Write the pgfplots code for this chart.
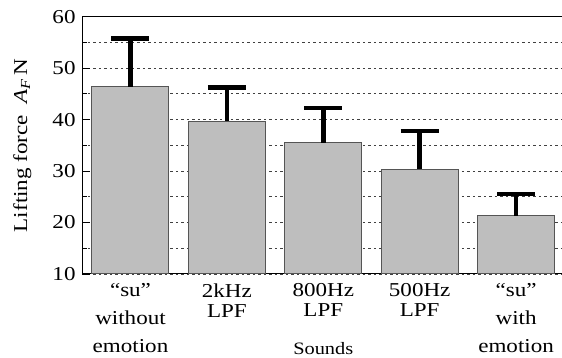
\documentclass[border=0pt]{standalone}
\usepackage{fontspec}
\setmainfont{Liberation Serif}[FakeStretch=1.17]
\usepackage{pgfplots}
\pgfplotsset{compat=1.18}
\definecolor{barfill}{HTML}{BEBEBE}
\definecolor{baredge}{HTML}{555555}
\pgfplotstableread{
x y e
0 46.4 9.4
1 39.7 6.5
2 35.5 6.8
3 30.4 7.35
4 21.3 4.25
}\datatable
\begin{document}
\fontsize{19.7}{20}\selectfont
\begin{tikzpicture}
\begin{axis}[
  scale only axis, width=482pt, height=257.3pt,
  xmin=-0.5, xmax=4.5, ymin=10, ymax=60,
  ybar, bar width=77pt,
  xtick={0,1,2,3,4},
  xticklabels={{“su”\\[8pt]without\\[8pt]emotion},{2kHz\\LPF},{800Hz\\LPF},{500Hz\\LPF},{“su”\\[8pt]with\\[8pt]emotion}},
  xticklabel style={align=center, font=\fontsize{19.7}{20}\selectfont, yshift=-3pt},
  xtick style={draw=none},
  ytick={10,20,...,60}, minor ytick={15,25,...,55},
  ytick pos=left,
  tick align=inside,
  major tick length=8pt, minor tick length=5pt,
  tick style={black, line width=0.8pt},
  yticklabel style={font=\fontsize{19.7}{20}\selectfont},
  /pgf/number format/assume math mode=true,
  ymajorgrids, yminorgrids,
  major grid style={black!75, line width=0.9pt, dash pattern=on 2.5pt off 3pt},
  minor grid style={black!75, line width=0.9pt, dash pattern=on 2.5pt off 3pt},
  axis line style={black, line width=1pt},
  ylabel={Lifting force\hspace{0.6em}\textit{A}\textsubscript{\textit{F}}\,N},
  ylabel style={at={(axis description cs:0,0.5)}, anchor=center, rotate=0, yshift=60pt, font=\fontsize{19.7}{20}\selectfont},
  xlabel={Sounds},
  xlabel style={at={(axis description cs:0.5,0)}, anchor=base, yshift=-81pt, font=\fontsize{17.4}{20}\selectfont},
]
\addplot[fill=barfill, draw=baredge, line width=1pt,
  error bars/.cd, y dir=plus, y explicit,
  error mark=|,
  error bar style={black, line width=4.5pt},
  error mark options={black, line width=4.5pt, mark size=19pt}]
  table[x=x, y=y, y error=e]{\datatable};
\coordinate (sw) at (rel axis cs:0,0);
\coordinate (ne) at (rel axis cs:1,1);
\end{axis}
\pgfresetboundingbox
\path[use as bounding box] ([shift={(-82.3pt,-84pt)}]sw) rectangle ([shift={(-2.3pt,16.7pt)}]ne);
\end{tikzpicture}
\end{document}
